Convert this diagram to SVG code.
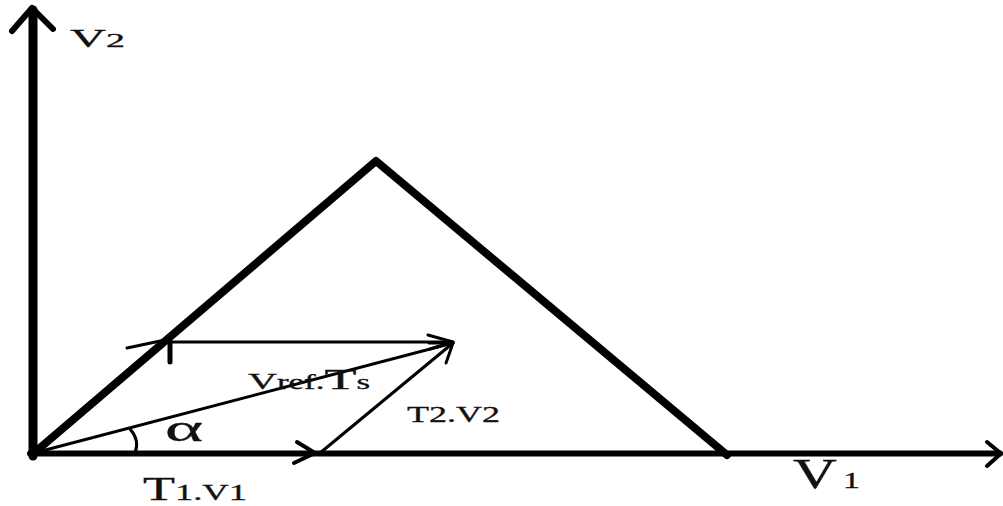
<svg xmlns="http://www.w3.org/2000/svg" width="1003" height="506" viewBox="0 0 1003 506">
<style>
.t{font-family:"Liberation Serif","Times New Roman",serif;fill:#111;stroke:#111;stroke-width:0.3}
.ln{stroke:#000;fill:none;stroke-linecap:round;stroke-linejoin:round}
</style>
<rect width="1003" height="506" fill="#fff"/>
<g id="axes">
<line class="ln" x1="33" y1="456" x2="33" y2="10" stroke-width="9"/>
<polyline class="ln" points="12,31 32,8 53,29" stroke-width="6"/>
<line class="ln" x1="30" y1="453.5" x2="1000" y2="453.5" stroke-width="6"/>
<polyline class="ln" points="987,442 1001,453.5 987,466" stroke-width="4"/>
</g>
<g id="triangle">
<polyline class="ln" points="34,453 376,161 727,455" stroke-width="8"/>
</g>
<g id="connectors">
<line class="ln" x1="127" y1="348" x2="165" y2="340" stroke-width="3"/>
<line class="ln" x1="168" y1="342" x2="453" y2="342" stroke-width="3"/>
<line class="ln" x1="170" y1="342" x2="170" y2="362" stroke-width="5"/>
<line class="ln" x1="34" y1="453" x2="453" y2="343" stroke-width="3"/>
<line class="ln" x1="320" y1="453" x2="453" y2="343" stroke-width="3"/>
<polyline class="ln" points="428,335 453,342 430,349" stroke-width="3"/>
<polyline class="ln" points="429,343 453,343 446,363" stroke-width="3"/>
<polyline class="ln" points="297,442 315,453 294,463" stroke-width="4"/>
<path class="ln" d="M130,429 Q140,440 135,453" stroke-width="3"/>
</g>
<g id="labels">
<text class="t" x="70" y="47" font-size="25" textLength="55" lengthAdjust="spacingAndGlyphs">V<tspan font-size="19">2</tspan></text>
<text class="t" x="793" y="488" font-size="42" textLength="67" lengthAdjust="spacingAndGlyphs">V<tspan font-size="24" dx="4">1</tspan></text>
<text class="t" x="143" y="500" font-size="33" textLength="104" lengthAdjust="spacingAndGlyphs">T<tspan font-size="23">1.V1</tspan></text>
<text class="t" x="165" y="441" font-size="38" textLength="38" lengthAdjust="spacingAndGlyphs">α</text>
<text class="t" x="248" y="389" font-size="23" textLength="122" lengthAdjust="spacingAndGlyphs">V<tspan font-size="20">ref.</tspan><tspan font-size="30">T</tspan><tspan font-size="20">s</tspan></text>
<text class="t" x="407" y="422" font-size="23" textLength="93" lengthAdjust="spacingAndGlyphs">T2.V2</text>
</g>
</svg>
